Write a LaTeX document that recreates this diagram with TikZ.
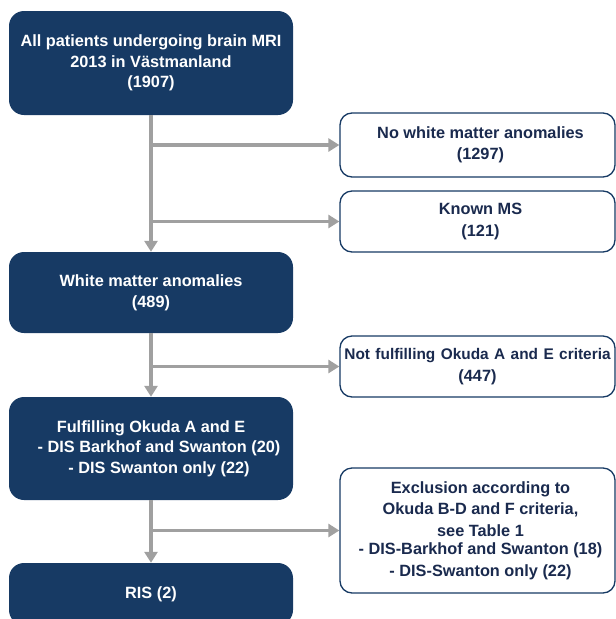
\documentclass[tikz,border=0pt]{standalone}
\usepackage{fontspec}
\setmainfont{Liberation Sans}
\usetikzlibrary{arrows.meta}
\definecolor{navy}{HTML}{173A64}
\definecolor{ink}{HTML}{1A2A4E}
\definecolor{arr}{HTML}{A0A0A0}
\begin{document}
\begin{tikzpicture}[x=1pt,y=-1pt,
  dark/.style={fill=navy, rounded corners=15pt, text=white,
    font=\bfseries\fontsize{16.3}{20.7}\selectfont, align=center,
    minimum width=284pt, inner sep=0pt},
  light/.style={draw=navy, line width=1.3pt, fill=white, rounded corners=12pt,
    text=ink, font=\bfseries\fontsize{16.3}{21.5}\selectfont, align=center,
    minimum width=275pt, inner sep=0pt},
  conn/.style={draw=arr, line width=3.3pt},
  arrowc/.style={conn, -{Triangle[length=11pt,width=13pt]}}]
\useasboundingbox (0,0) rectangle (616,619);
\clip (0,0) rectangle (616,619);

% main column
\node[dark, minimum height=104pt] (b1) at (151,63)
  {All patients undergoing brain MRI\\2013 in Västmanland\\(1907)};
\node[dark, minimum height=81pt] (b2) at (151,292.5)
  {White matter anomalies\\(489)};
\node[dark, minimum height=103pt] (b3) at (151,448.5)
  {Fulfilling Okuda A and E\\\hspace*{16pt}- DIS Barkhof and Swanton (20)\\\hspace*{16pt}- DIS Swanton only (22)};
\node[dark, minimum height=62pt] (b4) at (151,594)
  {RIS (2)};

% side boxes
\node[light, minimum height=64pt] (r1) at (477.5,145)
  {\hspace*{6pt}No white matter anomalies\\\hspace*{6pt}(1297)};
\node[light, minimum height=61pt] (r2) at (477.5,221.5)
  {\hspace*{6pt}Known MS\\\hspace*{6pt}(121)};
\node[light, minimum height=61pt, text width=268pt] (r3) at (477.5,366.5)
  {\centering{\fontsize{15.4}{21.5}\selectfont Not fulfilling Okuda A and E criteria}\\(447)};
\node[light, minimum height=125pt] (r4) at (477.5,530.5)
  {\hspace*{6pt}Exclusion according to\\\hspace*{6pt}Okuda B-D and F criteria,\\\hspace*{6pt}see Table 1\\[-3pt]\hspace*{6pt}- DIS-Barkhof and Swanton (18)\\\hspace*{6pt}- DIS-Swanton only (22)};

% junctions on the trunk
\coordinate (j1) at (151,145);
\coordinate (j2) at (151,221.5);
\coordinate (j3) at (151,366.5);
\coordinate (j4) at (151,530.5);

% connectors
\draw[arrowc] (b1.south) -- (b2.north);
\draw[arrowc] (j1) -- (r1.west);
\draw[arrowc] (j2) -- (r2.west);
\draw[arrowc] (b2.south) -- (b3.north);
\draw[arrowc] (j3) -- (r3.west);
\draw[arrowc] (b3.south) -- (b4.north);
\draw[arrowc] (j4) -- (r4.west);
\end{tikzpicture}
\end{document}
